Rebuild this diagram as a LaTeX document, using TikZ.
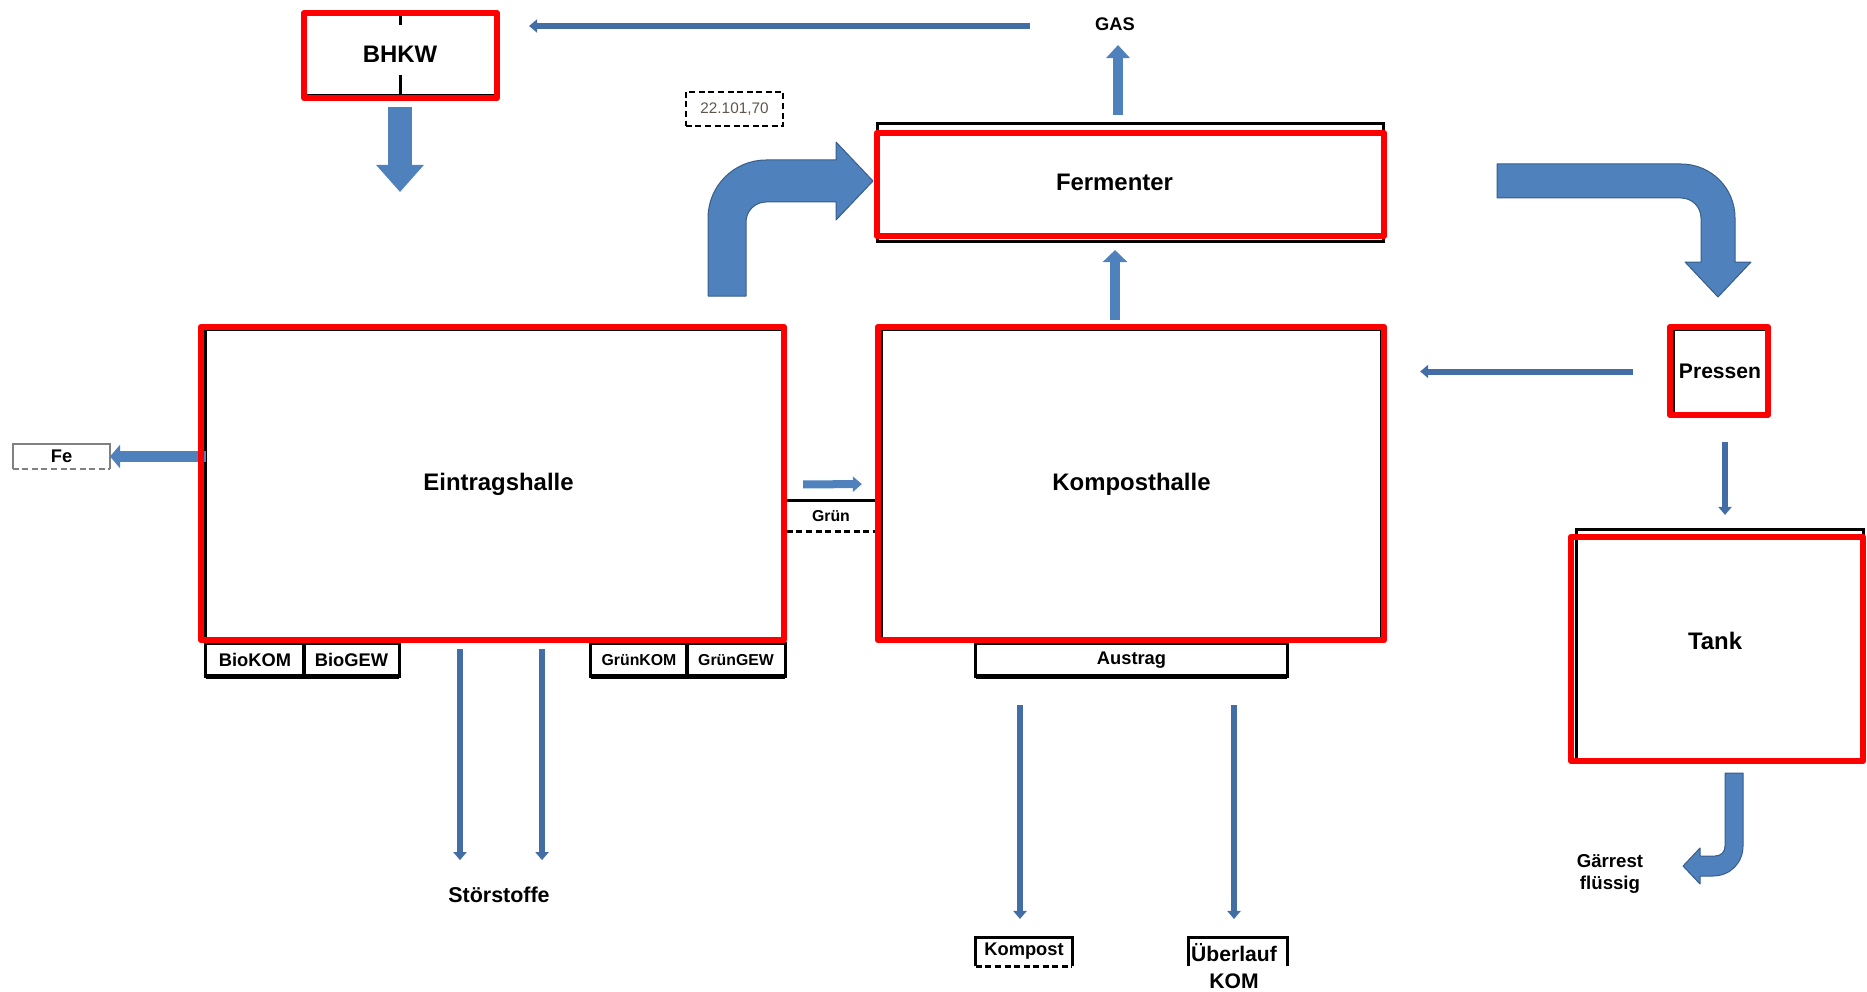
\documentclass[tikz,border=0pt]{standalone}
\usepackage{fontspec}
\setmainfont{Liberation Sans}
\usetikzlibrary{arrows.meta}

\definecolor{pfeilblau}{RGB}{79,129,189}
\definecolor{pfeilrand}{RGB}{56,93,138}
\definecolor{linienblau}{RGB}{66,110,165}
\definecolor{zahlgrau}{RGB}{95,85,75}

\tikzset{
  halle/.style={draw=black, line width=0.03cm, inner sep=0, outer sep=0,
    font=\fontsize{6.8pt}{8pt}\selectfont\bfseries},
  rahmen/.style={draw=red, line width=0.06cm, line join=round},
  fach/.style={draw=black, line width=0.03cm, inner sep=0, outer sep=0,
    minimum height=0.32cm, font=\fontsize{5.2pt}{6pt}\selectfont\bfseries},
  beschriftung/.style={inner sep=0, outer sep=0, align=center,
    font=\fontsize{5.2pt}{6pt}\selectfont\bfseries},
  pfeil/.style={draw=linienblau, line width=0.06cm,
    -{Triangle[width=0.13cm, length=0.08cm]}},
  blockpfeil/.style={draw=pfeilblau, line width=0.1cm,
    -{Triangle[width=0.23cm, length=0.13cm]}},
  bogenpfeil/.style={fill=pfeilblau, draw=pfeilrand, line width=0.01cm, line join=round},
  strich/.style={dash pattern=on 0.06cm off 0.035cm}
}

\begin{document}
\begin{tikzpicture}[x=0.01cm, y=-0.01cm]
\useasboundingbox (0,0) rectangle (1867,991);

% Anlagen
\node[halle, minimum width=1.9cm, minimum height=0.81cm] (bhkw) at (400,54.5)
	{BHKW};
\node[halle, minimum width=5.05cm, minimum height=1.17cm] (fermenter) at (1130.5,182.5)
	{Fermenter\hspace{0.32cm}\mbox{}};
\node[halle, minimum width=5.77cm, minimum height=3.09cm] (eintrag) at (494.5,484.5)
	{\raisebox{-0.05cm}{Eintragshalle}\hspace*{-0.08cm}};
\node[halle, minimum width=4.99cm, minimum height=3.08cm] (kompost) at (1131.5,484)
	{\raisebox{-0.05cm}{Komposthalle}};
\node[halle, minimum width=0.94cm, minimum height=0.83cm,
	font=\fontsize{6pt}{7pt}\selectfont\bfseries] (pressen) at (1720,371.5)
	{Pressen};
\node[halle, minimum width=2.86cm, minimum height=2.29cm] (tank) at (1720,644.5)
	{\raisebox{0.07cm}{Tank}\hspace{0.1cm}\mbox{}};

\draw[line width=0.03cm] (bhkw.north) -- ++(0,11);
\draw[line width=0.03cm] (bhkw.south) -- ++(0,-20);

% Faecher unter den Hallen
\node[fach, minimum width=0.98cm] (biokom) at (255,660) {BioKOM};
\node[fach, minimum width=0.95cm] (biogew) at (351.5,660) {BioGEW};
\node[fach, minimum width=0.96cm, font=\fontsize{4.5pt}{5pt}\selectfont\bfseries] (gruenkom) at (639,660) {GrünKOM};
\node[fach, minimum width=0.98cm, font=\fontsize{4.5pt}{5pt}\selectfont\bfseries] (gruengew) at (736,660) {GrünGEW};
\node[fach, minimum width=3.11cm] (austrag) at (1131.5,660) {Austrag};
\foreach \n in {biokom,biogew,gruenkom,gruengew,austrag}
	\draw[line width=0.05cm] (\n.south west) -- (\n.south east);

% Beschriftungen
\node[beschriftung] (gas) at (1115,24) {GAS};
\node[draw=black, strich, line width=0.025cm, minimum width=0.97cm, minimum height=0.34cm,
	inner sep=0, text=zahlgrau, font=\fontsize{4.35pt}{5pt}\selectfont] (zahl) at (734.5,109)
	{\raisebox{-0.03cm}{22.101,70}};
\node[beschriftung, minimum width=0.97cm, minimum height=0.25cm] (fe) at (61.5,456.5) {\raisebox{-0.02cm}{Fe}};
\draw[gray, line width=0.02cm] (fe.south west) -- (fe.north west) -- (fe.north east) -- (fe.south east);
\draw[gray, line width=0.02cm, strich] (fe.south west) -- (fe.south east);
\node[beschriftung, minimum width=0.88cm, minimum height=0.30cm,
	font=\fontsize{4.5pt}{5pt}\selectfont\bfseries] (gruen) at (831,516) {Grün};
\draw[line width=0.03cm] (gruen.north west) -- (gruen.north east);
\draw[line width=0.03cm, strich] (gruen.south west) -- (gruen.south east);
\node[beschriftung, font=\fontsize{6.1pt}{7pt}\selectfont\bfseries] (stoer) at (499,895) {Störstoffe};
\node[beschriftung, minimum width=0.96cm, minimum height=0.29cm] (kompostlager) at (1024,951.5) {\raisebox{-0.03cm}{Kompost}};
\draw[line width=0.03cm] (kompostlager.south west) -- (kompostlager.north west)
	-- (kompostlager.north east) -- (kompostlager.south east);
\draw[line width=0.03cm, strich] (kompostlager.south west) -- (kompostlager.south east);
\node[beschriftung, minimum width=0.99cm, font=\fontsize{6pt}{7.7pt}\selectfont\bfseries] (ueberlauf) at (1234,966)
	{Überlauf\\KOM};
\draw[line width=0.03cm] ([xshift=0.04cm]ueberlauf.west |- kompostlager.south) -- ([xshift=0.04cm]ueberlauf.west |- kompostlager.north)
	-- ([xshift=0.04cm]ueberlauf.east |- kompostlager.north) -- ([xshift=0.04cm]ueberlauf.east |- kompostlager.south);
\node[beschriftung, font=\fontsize{5.3pt}{6pt}\selectfont\bfseries] (gaerrest) at (1610,874) {Gärrest\\flüssig};

% Leitungen
\coordinate (gasabgang) at (1030,26);
\coordinate (bhkwwaerme) at (400,192);
\draw[pfeil, shorten >=0.34cm] (gasabgang) -- (gasabgang -| bhkw.east);
\draw[blockpfeil, shorten <=0.09cm, shorten >=0.21cm] ([xshift=0.03cm]fermenter.north -| gas) -- ([xshift=0.03cm]gas.center);
\draw[blockpfeil, -{Triangle[width=0.24cm, length=0.12cm]}, shorten <=0.1cm, shorten >=0.09cm]
	(kompost.north -| gas) -- (fermenter.south -| gas);
\draw[blockpfeil, line width=0.23cm, -{Triangle[width=0.46cm, length=0.27cm]}, shorten <=0.12cm]
	(bhkw.south) -- (bhkwwaerme);
\draw[blockpfeil, line width=0.11cm, -{Triangle[width=0.23cm, length=0.1cm]}]
	(eintrag.west |- fe) -- (fe.east);
\draw[blockpfeil, line width=0.08cm, -{Triangle[width=0.15cm, length=0.09cm]}, shorten <=0.2cm, shorten >=0.2cm]
	(eintrag.east) -- (kompost.west);
\draw[pfeil, shorten <=0.4cm, shorten >=0.39cm] (pressen.west) -- (pressen.west -| kompost.east);
\draw[pfeil, shorten <=0.29cm, shorten >=0.15cm] ([xshift=0.05cm]pressen.south) -- ([xshift=0.05cm]tank.north);
\foreach \dx in {-0.39cm,0.43cm}
	\draw[pfeil, shorten <=0.1cm, shorten >=0.27cm]
		([xshift=\dx]stoer.north |- eintrag.south) -- ([xshift=\dx]stoer.north);
\draw[pfeil, shorten <=0.29cm, shorten >=0.18cm] ([xshift=-0.04cm]austrag.south -| kompostlager) -- ([xshift=-0.04cm]kompostlager.north);
\draw[pfeil, shorten <=0.29cm, shorten >=0.18cm] (austrag.south -| ueberlauf) -- (ueberlauf |- kompostlager.north);

% Bogenpfeile
\path[bogenpfeil] (708,296) -- (708,218) .. controls (708,186) and (734,160) .. (766,160)
	-- (836,160) -- (836,142) -- (873,181) -- (836,220) -- (836,202) -- (766,202)
	.. controls (755,202) and (746,211) .. (746,222) -- (746,296) -- cycle;
\path[bogenpfeil] (1497,164) -- (1681,164) .. controls (1711,164) and (1735,188) .. (1735,218)
	-- (1735,262) -- (1751,262) -- (1718,297) -- (1685,262) -- (1701,262) -- (1701,218)
	.. controls (1701,207) and (1692,198) .. (1681,198) -- (1497,198) -- cycle;
\path[bogenpfeil] (1725,773) -- (1743,773) -- (1743,846) .. controls (1743,863) and (1730,876) .. (1713,876)
	-- (1700,876) -- (1700,884) -- (1683,866) -- (1700,848) -- (1700,856) -- (1715,856)
	.. controls (1721,856) and (1725,852) .. (1725,846) -- cycle;

% rote Markierungen
\foreach \n/\ax/\ay/\bx/\by in {bhkw/-1/-1/2/3, fermenter/-1/9/1/-5, eintrag/-5/-3/1/1,
		kompost/-4/-3/3/2, pressen/-3/-3/1/2, tank/-6/7/0/2}
	\draw[rahmen] ([shift={(\ax,\ay)}]\n.north west) rectangle ([shift={(\bx,\by)}]\n.south east);
\end{tikzpicture}
\end{document}
